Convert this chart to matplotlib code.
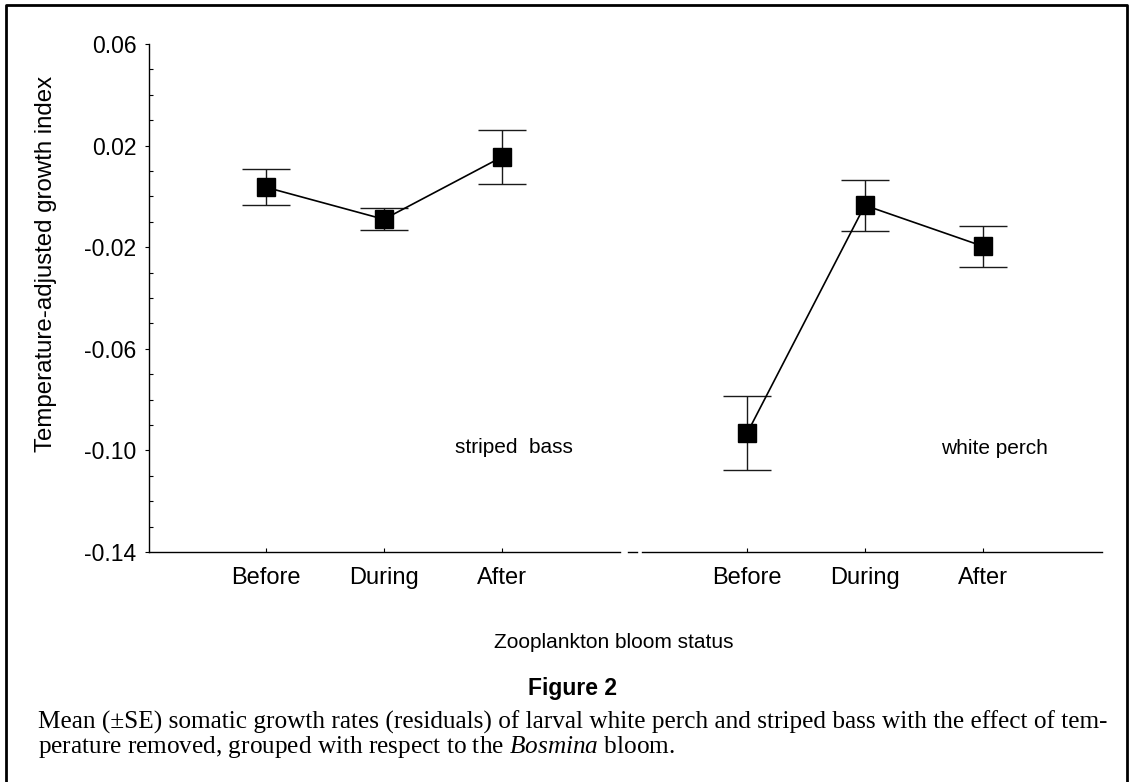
import matplotlib
matplotlib.use("Agg")
import matplotlib.pyplot as plt
from matplotlib.lines import Line2D
from matplotlib.ticker import MultipleLocator

plt.rcParams['font.family'] = ['Liberation Sans', 'DejaVu Sans']
plt.rcParams['mathtext.fontset'] = 'custom'
plt.rcParams['mathtext.rm'] = 'Liberation Serif'
plt.rcParams['mathtext.it'] = 'Liberation Serif:italic'

# values
periods = ["Before", "During", "After"]
bass_mean = [0.0036, -0.0090, 0.0155]
bass_se = [0.0071, 0.0043, 0.0108]
perch_mean = [-0.0933, -0.0035, -0.0196]
perch_se = [0.0146, 0.0100, 0.0081]
yticks = [0.06, 0.02, -0.02, -0.06, -0.10, -0.14]
ytick_labels = ["0.06", "0.02", "-0.02", "-0.06", "-0.10", "-0.14"]

# x positions of the two groups
bass_x = [1, 2, 3]
perch_x = [5.08, 6.08, 7.08]

fig = plt.figure(figsize=(11.33, 7.82), dpi=100)
ax = fig.add_axes([0.1315, 0.2941, 0.8411, 0.6496])

for xs, m, se in [(bass_x, bass_mean, bass_se), (perch_x, perch_mean, perch_se)]:
    ax.errorbar(xs, m, yerr=se, fmt='none', ecolor='#1a1a1a', elinewidth=1,
                capsize=17, capthick=1, zorder=2)
    ax.plot(xs, m, color='black', lw=1.2, marker='s', markersize=13,
            mfc='black', mec='black', zorder=3)

ax.set_xlim(0.0076, 8.091)
ax.set_ylim(-0.14, 0.06)

for s in ['top', 'right', 'bottom']:
    ax.spines[s].set_visible(False)
ax.spines['left'].set_linewidth(1)

# broken x axis line between the two panels
ax.axhline(-0.14, 0, 0.494, color='black', lw=1, clip_on=False)
ax.axhline(-0.14, 0.503, 0.512, color='black', lw=1, clip_on=False)
ax.axhline(-0.14, 0.517, 1, color='black', lw=1, clip_on=False)

ax.set_xticks(bass_x + perch_x, periods * 2)
ax.tick_params(axis='x', direction='in', length=3, labelsize=17, pad=11)
ax.set_yticks(yticks, ytick_labels)
ax.yaxis.set_minor_locator(MultipleLocator(0.01))
ax.tick_params(axis='y', which='major', direction='out', length=3, labelsize=16.5, pad=6)
ax.tick_params(axis='y', which='minor', direction='in', length=3, width=0.8)

ax.text(3.10, -0.0988, "striped  bass", ha='center', va='center', fontsize=15)
ax.text(7.18, -0.0992, "white perch", ha='center', va='center', fontsize=15)

fig.text(0.0406, 0.6624, "Temperature-adjusted growth index", rotation=90,
         ha='center', va='center', fontsize=17.3)
fig.text(0.5419, 0.179, "Zooplankton bloom status", ha='center', va='center', fontsize=15)
fig.text(0.5049, 0.1202, "Figure 2", ha='center', va='center', fontsize=16.5,
         fontweight='bold')

fig.text(0.0335, 0.0767,
         "Mean (±SE) somatic growth rates (residuals) of larval white perch and "
         "striped bass with the effect of tem-",
         ha='left', va='center', fontsize=18.2, family='Liberation Serif')
fig.text(0.0335, 0.0448,
         r"perature removed, grouped with respect to the $\mathit{Bosmina}$ bloom.",
         ha='left', va='center', fontsize=18.2, family='Liberation Serif')

# page frame
x0, x1, y1 = 6 / 1133, 1127 / 1133, 1 - 5 / 782
fig.add_artist(Line2D([x0, x0, x1, x1], [0, y1, y1, 0], transform=fig.transFigure,
                      color='black', lw=2))

fig.savefig("out.png", dpi=100)
